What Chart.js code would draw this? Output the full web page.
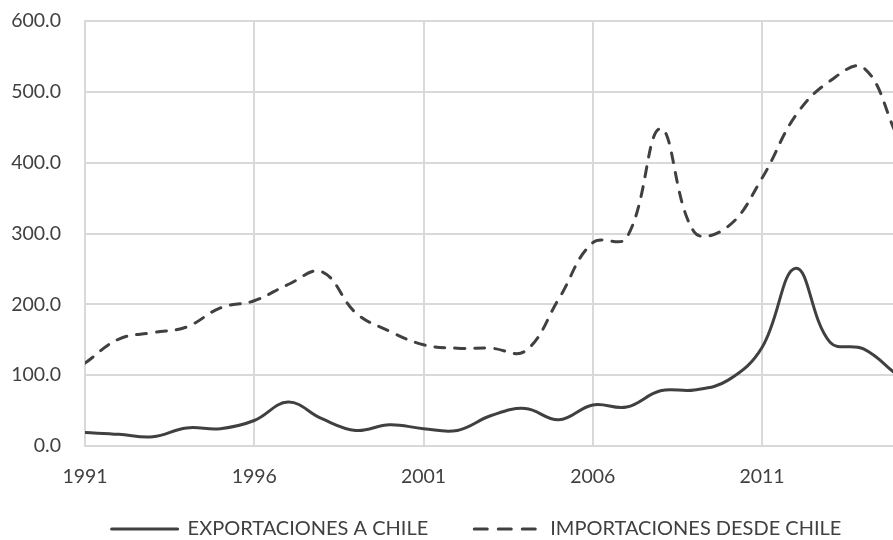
<!DOCTYPE html>
<html>
<head>
<meta charset="utf-8">
<script src="https://cdn.jsdelivr.net/npm/chart.js@4/dist/chart.umd.min.js"></script>
<style>
  html, body { margin: 0; padding: 0; background: #ffffff; }
  #wrap { width: 893px; height: 540px; position: relative; }
</style>
</head>
<body>
<div id="wrap"><canvas id="c" width="893" height="540"></canvas></div>
<script>
// ---- data ----
const years = [1991,1992,1993,1994,1995,1996,1997,1998,1999,2000,2001,2002,2003,2004,2005,2006,2007,2008,2009,2010,2011,2012,2013,2014,2015];
const exportaciones = [19,16.5,13,25.5,24.5,36,62,38.5,22,30,24.5,22,43,53,37,58,55,78,79,93,139,251,147,137,100];
const importaciones = [117,151,160,168,195,205,228,246,188,162,143,138,138,134,208,287,294,448,302,310,378,467,515,534,437];
const xTickYears = [1991,1996,2001,2006,2011];
const yTickValues = [0,100,200,300,400,500,600];
const seriesLabels = ['EXPORTACIONES A CHILE','IMPORTACIONES DESDE CHILE'];

const INK = '#404040';
const GRID = '#d9d9d9';
const FONT = 'Lato';

Chart.defaults.font.family = FONT;
Chart.defaults.color = INK;

const toPoints = (vals) => years.map((y, i) => ({ x: y, y: vals[i] }));

// labels may sit outside their (narrow) scale boxes
const noLabelClip = (scale) => { scale._computeLabelArea = () => undefined; };

new Chart(document.getElementById('c'), {
  type: 'line',
  data: {
    datasets: [
      {
        label: seriesLabels[0],
        data: toPoints(exportaciones),
        borderColor: INK,
        backgroundColor: INK,
        borderWidth: 3,
        pointRadius: 0,
        tension: 0.4,
        borderCapStyle: 'round',
        fill: false
      },
      {
        label: seriesLabels[1],
        data: toPoints(importaciones),
        borderColor: INK,
        backgroundColor: INK,
        borderWidth: 3,
        borderDash: [10, 10],
        borderCapStyle: 'round',
        pointRadius: 0,
        tension: 0.4,
        fill: false
      }
    ]
  },
  options: {
    responsive: false,
    animation: false,
    layout: { padding: { left: 60, right: 0, top: 21, bottom: 0 } },
    plugins: {
      tooltip: { enabled: false },
      title: { display: false },
      legend: {
        display: true,
        position: 'bottom',
        align: 'center',
        maxHeight: 67,
        labels: {
          usePointStyle: true,
          pointStyle: 'line',
          pointStyleWidth: 66,
          padding: 46,
          color: INK,
          font: { family: FONT, size: 20 },
          generateLabels: (chart) => {
            const items = Chart.defaults.plugins.legend.labels.generateLabels(chart);
            items.forEach((it) => {
              const ds = chart.data.datasets[it.datasetIndex];
              it.lineDash = ds.borderDash ? [13, 11] : [];
              it.lineWidth = ds.borderWidth;
              it.strokeStyle = ds.borderColor;
              it.lineCap = ds.borderCapStyle;
              it.pointStyle = 'line';
            });
            return items;
          }
        }
      }
    },
    scales: {
      x: {
        type: 'linear',
        min: 1991,
        max: 2014.87,
        offset: false,
        afterBuildTicks: (scale) => { scale.ticks = xTickYears.map(v => ({ value: v })); },
        afterFit: (scale) => { scale.height = 27; noLabelClip(scale); },
        ticks: {
          autoSkip: false,
          maxRotation: 0,
          padding: 19,
          color: INK,
          font: { family: FONT, size: 19.5 },
          callback: (v) => String(v)
        },
        grid: { color: GRID, lineWidth: 2, drawTicks: false },
        border: { display: true, color: GRID, width: 2 }
      },
      y: {
        min: 0,
        max: 600,
        afterBuildTicks: (scale) => { scale.ticks = yTickValues.map(v => ({ value: v })); },
        afterFit: (scale) => {
          scale.width = 25;
          scale.paddingTop = 0;
          scale.paddingBottom = 0;
          noLabelClip(scale);
        },
        ticks: {
          padding: 24,
          color: INK,
          font: { family: FONT, size: 19.5 },
          callback: (v) => Number(v).toFixed(1)
        },
        grid: { color: GRID, lineWidth: 2, drawTicks: false },
        border: { display: true, color: GRID, width: 2 }
      }
    }
  }
});
</script>
</body>
</html>
